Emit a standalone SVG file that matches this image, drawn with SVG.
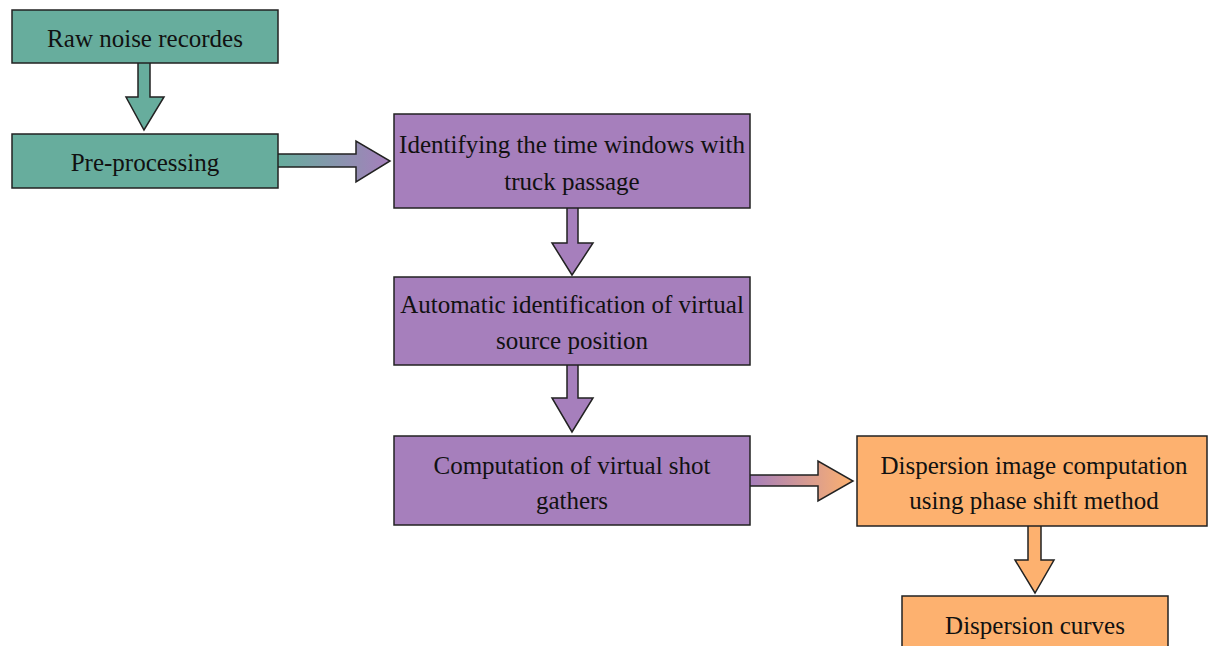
<svg xmlns="http://www.w3.org/2000/svg" width="1208" height="646" viewBox="0 0 1208 646">
<style>
.box{stroke:#222;stroke-width:1.5}
.teal{fill:#67ad9d}
.purple{fill:#a67fbc}
.orange{fill:#fdb16f}
.arr{stroke:#222;stroke-width:1.5;stroke-linejoin:miter}
text{font-family:"Liberation Serif","Times New Roman",serif;font-size:25px;fill:#111;text-anchor:middle}
</style>
<defs>
<linearGradient id="g1" x1="278" y1="0" x2="390" y2="0" gradientUnits="userSpaceOnUse">
<stop offset="0" stop-color="#67ad9d"/><stop offset="1" stop-color="#a67fbc"/>
</linearGradient>
<linearGradient id="g2" x1="750" y1="0" x2="853" y2="0" gradientUnits="userSpaceOnUse">
<stop offset="0" stop-color="#a67fbc"/><stop offset="1" stop-color="#fdb16f"/>
</linearGradient>
</defs>
<rect width="1208" height="646" fill="#fff"/>
<g id="connectors">
<path class="arr teal" d="M138,63 V97 H126 L144,130 L164,97 H150 V63"/>
<path class="arr" fill="url(#g1)" d="M278,154 H356 V141 L390,161 L356,182 V167 H278"/>
<path class="arr purple" d="M567,208 V243 H552 L572,275 L593,243 H578 V208"/>
<path class="arr purple" d="M567,365 V398 H552 L572,432 L593,398 H578 V365"/>
<path class="arr" fill="url(#g2)" d="M750,475 H818 V461 L853,481 L818,501 V486 H750"/>
<path class="arr orange" d="M1028,526 V560 H1015 L1035,593 L1054,560 H1041 V526"/>
</g>
<g id="n1"><rect class="box teal" x="12" y="10" width="266" height="53"/><text x="145" y="47">Raw noise recordes</text></g>
<g id="n2"><rect class="box teal" x="12" y="134" width="266" height="54"/><text x="145" y="171">Pre-processing</text></g>
<g id="n3"><rect class="box purple" x="394" y="114" width="356" height="94"/><text x="572" y="153">Identifying the time windows with</text><text x="572" y="190">truck passage</text></g>
<g id="n4"><rect class="box purple" x="394" y="277" width="356" height="88"/><text x="572" y="313">Automatic identification of virtual</text><text x="572" y="349">source position</text></g>
<g id="n5"><rect class="box purple" x="394" y="436" width="356" height="89"/><text x="572" y="474">Computation of virtual shot</text><text x="572" y="509">gathers</text></g>
<g id="n6"><rect class="box orange" x="857" y="436" width="350" height="90"/><text x="1034" y="474">Dispersion image computation</text><text x="1034" y="509">using phase shift method</text></g>
<g id="n7"><rect class="box orange" x="902" y="596" width="266" height="60"/><text x="1035" y="634">Dispersion curves</text></g>
</svg>
